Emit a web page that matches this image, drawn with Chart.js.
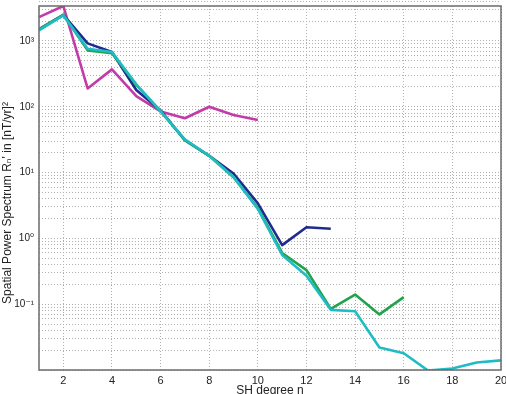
<!DOCTYPE html>
<html>
<head>
<meta charset="utf-8">
<script src="https://cdn.jsdelivr.net/npm/chart.js@4"></script>
<style>
  html, body { margin: 0; padding: 0; background: #fff; overflow: hidden; }
  #wrap { width: 506px; height: 394px; }
</style>
</head>
<body>
<div id="wrap"><canvas id="chart" width="506" height="394"></canvas></div>
<script>
const degrees = [1, 2, 3, 4, 5, 6, 7, 8, 9, 10, 11, 12, 13, 14, 15, 16, 17, 18, 19, 20];
const magentaSeries = [2300, 3400, 190, 370, 145, 85, 67, 100, 75, 63];
const blueSeries = [1500, 2500, 920, 680, 180, 88, 31, 18, 9.7, 3.4, 0.79, 1.48, 1.4];
const greenSeries = [1500, 2500, 720, 650, 215, 86, 31, 18, 8.5, 2.9, 0.6, 0.33, 0.085, 0.14, 0.07, 0.128];
const cyanSeries = [1450, 2450, 760, 680, 220, 85, 32, 18, 8.6, 2.8, 0.56, 0.27, 0.082, 0.078, 0.022, 0.018, 0.0098, 0.0105, 0.013, 0.014];
const xTicks = [2, 4, 6, 8, 10, 12, 14, 16, 18, 20];
const yTickLabels = { 0.1: '10⁻¹', 1: '10⁰', 10: '10¹', 100: '10²', 1000: '10³' };

const pts = (arr) => arr.map((v, i) => ({ x: degrees[i], y: v }));

// every 1..9 x 10^k between the axis limits, like matlab's log grid
const yGridValues = [];
for (let e = -2; e <= 3; e++)
  for (let m = 1; m <= 9; m++) yGridValues.push(+(m * Math.pow(10, e)).toPrecision(3));

const boxPlugin = {
  id: 'box',
  afterDraw(chart) {
    const { ctx, chartArea: a } = chart;
    ctx.save();
    ctx.strokeStyle = '#6b6b6b';
    ctx.lineWidth = 1.5;
    ctx.strokeRect(a.left, a.top, a.right - a.left, a.bottom - a.top);
    ctx.restore();
  }
};

const font = { family: '"Liberation Sans", Arial, "DejaVu Sans", sans-serif', size: 11 };
const grid = { color: '#b0b0b0', lineWidth: 1, drawTicks: false };
const border = { display: false, dash: [1, 2] };

new Chart(document.getElementById('chart'), {
  type: 'line',
  data: {
    datasets: [{
      data: pts(magentaSeries),
      borderColor: '#c33ba9',
      order: 3
    }, {
      data: pts(blueSeries),
      borderColor: '#1f2c8f',
      order: 2
    }, {
      data: pts(greenSeries),
      borderColor: '#22a24c',
      order: 1
    }, {
      data: pts(cyanSeries),
      borderColor: '#1fbcc6',
      order: 0
    }]
  },
  plugins: [boxPlugin],
  options: {
    responsive: false,
    animation: false,
    layout: { padding: { top: 6, right: 5, left: 0, bottom: 0 } },
    elements: {
      line: { borderWidth: 2.6, tension: 0, borderJoinStyle: 'round' },
      point: { radius: 0 }
    },
    plugins: {
      legend: { display: false },
      tooltip: { enabled: false }
    },
    scales: {
      x: {
        type: 'linear',
        min: 1,
        max: 20,
        afterBuildTicks: (s) => { s.ticks = xTicks.map(v => ({ value: v })); },
        afterFit: (s) => { s.height = 24; s.paddingRight = 0; s.paddingLeft = 0; },
        border,
        grid,
        ticks: { color: '#222', font, padding: 4, maxRotation: 0 },
        title: {
          display: true,
          text: 'SH degree n',
          color: '#222',
          font: { ...font, size: 12 },
          padding: { top: 0, bottom: -4 }
        }
      },
      y: {
        type: 'logarithmic',
        min: 0.01,
        max: 3400,
        afterBuildTicks: (s) => { s.ticks = yGridValues.map(v => ({ value: v })); },
        afterFit: (s) => { s.width = 39; s.paddingTop = 0; s.paddingBottom = 0; },
        border,
        grid,
        ticks: {
          color: '#222',
          font: { ...font, size: 10 },
          padding: 5,
          autoSkip: false,
          callback: (v) => yTickLabels[v] || ''
        },
        title: {
          display: true,
          // trailing en spaces push the rotated text a bit lower, as in the original
          text: "Spatial Power Spectrum Rₙ' in [nT/yr]²\u2002\u2002\u2002\u2002\u2002",
          color: '#222',
          font: { ...font, size: 12 },
          padding: { top: 0, bottom: 0 }
        }
      }
    }
  }
});
</script>
</body>
</html>
